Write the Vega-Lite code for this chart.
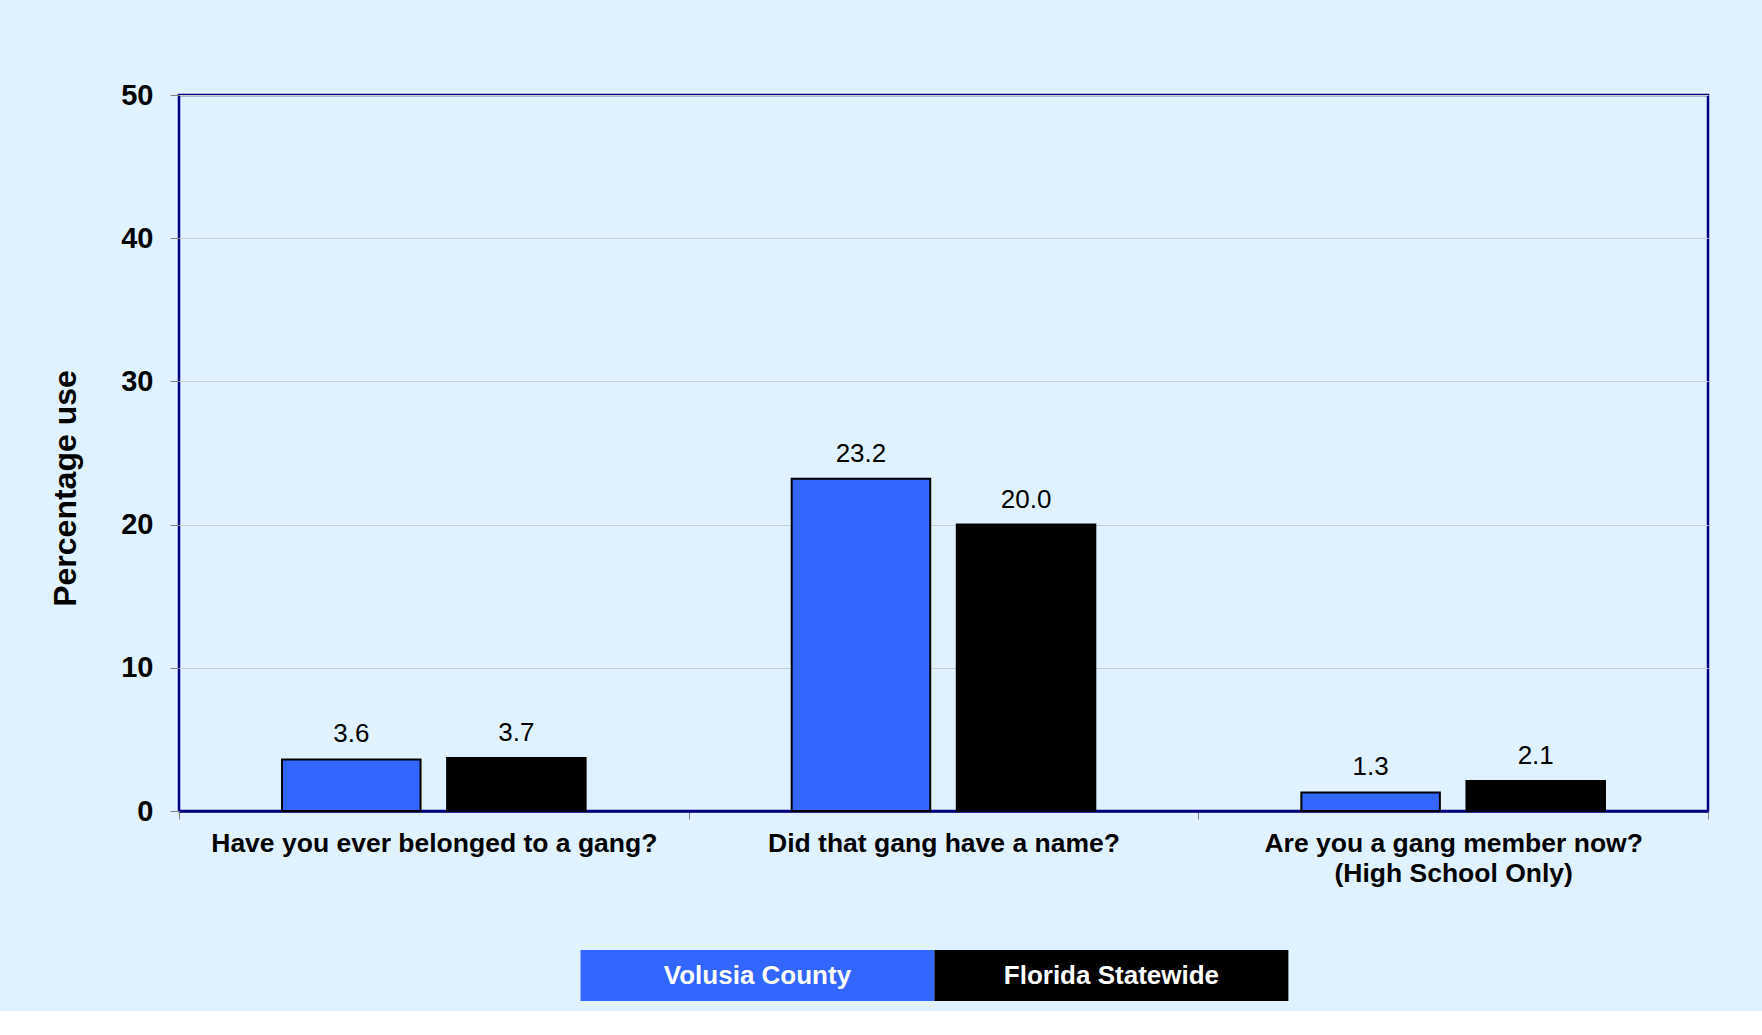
{
  "$schema": "https://vega.github.io/schema/vega-lite/v6.json",
  "background": "#E0F2FF",
  "padding": {"left": 48, "top": 79, "right": 54, "bottom": 10},
  "config": {
    "font": "Liberation Sans",
    "view": {"stroke": null},
    "concat": {"spacing": 62}
  },
  "datasets": {
    "survey": [
      {"question": "Have you ever belonged to a gang?", "group": "Volusia County", "value": 3.6},
      {"question": "Have you ever belonged to a gang?", "group": "Florida Statewide", "value": 3.7},
      {"question": "Did that gang have a name?", "group": "Volusia County", "value": 23.2},
      {"question": "Did that gang have a name?", "group": "Florida Statewide", "value": 20.0},
      {"question": "Are you a gang member now?|(High School Only)", "group": "Volusia County", "value": 1.3},
      {"question": "Are you a gang member now?|(High School Only)", "group": "Florida Statewide", "value": 2.1}
    ],
    "legend": [
      {"group": "Volusia County"},
      {"group": "Florida Statewide"}
    ]
  },
  "vconcat": [
    {
      "width": 1529,
      "height": 716,
      "data": {"name": "survey"},
      "view": {"stroke": "#000080", "strokeWidth": 2.5},
      "encoding": {
        "x": {
          "field": "question",
          "type": "nominal",
          "sort": null,
          "scale": {"paddingInner": 0, "paddingOuter": 0},
          "axis": {
            "title": null,
            "labelAngle": 0,
            "labelFont": "Liberation Sans",
            "labelFontSize": 26.5,
            "labelFontWeight": "bold",
            "labelColor": "#000000",
            "labelExpr": "split(datum.label, '|')",
            "labelLineHeight": 30,
            "labelPadding": 11,
            "labelLimit": 0,
            "tickBand": "extent",
            "tickSize": 8,
            "tickColor": "#808080",
            "domainColor": "#000080",
            "domainWidth": 2.5
          }
        },
        "xOffset": {
          "field": "group",
          "type": "nominal",
          "sort": ["Volusia County", "Florida Statewide"],
          "scale": {"paddingInner": 0.161, "paddingOuter": 0.624}
        },
        "y": {
          "field": "value",
          "type": "quantitative",
          "scale": {"domain": [0, 50], "nice": false},
          "axis": {
            "title": "Percentage use",
            "titleFont": "Liberation Sans",
            "titleFontSize": 32,
            "titleFontWeight": "bold",
            "titleColor": "#000000",
            "titlePadding": 38,
            "titleY": 393,
            "values": [0, 10, 20, 30, 40, 50],
            "labelFont": "Liberation Sans",
            "labelFontSize": 29,
            "labelFontWeight": "bold",
            "labelColor": "#000000",
            "labelPadding": 17,
            "tickSize": 9,
            "tickColor": "#808080",
            "domain": false,
            "gridColor": "#C8CDD2",
            "gridWidth": 1
          }
        }
      },
      "layer": [
        {
          "mark": {"type": "bar", "stroke": "#000000", "strokeWidth": 2},
          "encoding": {
            "color": {
              "field": "group",
              "type": "nominal",
              "scale": {"domain": ["Volusia County", "Florida Statewide"], "range": ["#3366FF", "#000000"]},
              "legend": null
            }
          }
        },
        {
          "mark": {"type": "text", "baseline": "alphabetic", "dy": -17, "fontSize": 26, "color": "#000000", "font": "Liberation Sans"},
          "encoding": {
            "text": {"field": "value", "type": "quantitative", "format": ".1f"}
          }
        }
      ]
    },
    {
      "width": 1529,
      "height": 51,
      "data": {"name": "legend"},
      "encoding": {
        "x": {
          "field": "group",
          "type": "nominal",
          "scale": {"domain": ["_left", "Volusia County", "Florida Statewide", "_right"], "paddingInner": 0, "paddingOuter": 0.16, "align": 0.42},
          "axis": null
        }
      },
      "layer": [
        {
          "mark": {"type": "bar"},
          "encoding": {
            "color": {
              "field": "group",
              "type": "nominal",
              "scale": {"domain": ["Volusia County", "Florida Statewide"], "range": ["#3366FF", "#000000"]},
              "legend": null
            }
          }
        },
        {
          "mark": {"type": "text", "color": "#FFFFFF", "fontSize": 26, "fontWeight": "bold", "font": "Liberation Sans"},
          "encoding": {
            "text": {"field": "group", "type": "nominal"}
          }
        }
      ]
    }
  ]
}
